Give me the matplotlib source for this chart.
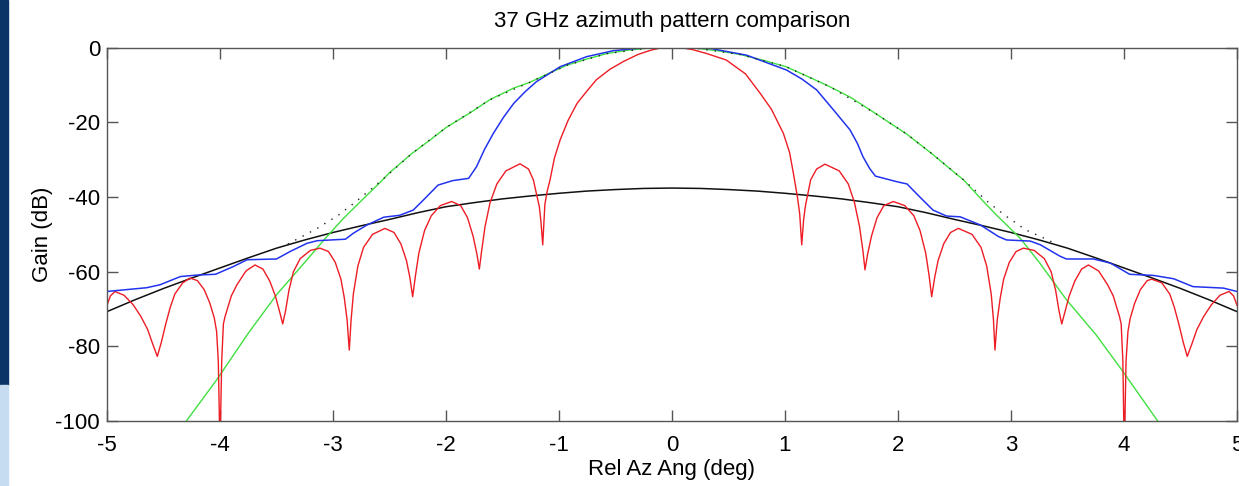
import numpy as np
import matplotlib.pyplot as plt
from matplotlib.patches import Rectangle

plt.rcParams['font.family'] = ['Liberation Sans', 'DejaVu Sans']
plt.rcParams['axes.unicode_minus'] = False

# red: theoretical pattern
red_x = [-5.00, -4.97, -4.93, -4.85, -4.77, -4.70, -4.64, -4.60, -4.555, -4.52, -4.48, -4.44, -4.40, -4.33,
         -4.265, -4.20, -4.14, -4.09, -4.05, -4.03, -4.015, -4.005, -3.995, -3.985, -3.97, -3.955, -3.90,
         -3.85, -3.77, -3.69, -3.62, -3.56, -3.51, -3.47, -3.445, -3.42, -3.39, -3.35, -3.29, -3.20, -3.115,
         -3.04, -2.98, -2.93, -2.90, -2.875, -2.856, -2.84, -2.82, -2.78, -2.73, -2.65, -2.54, -2.46, -2.40,
         -2.35, -2.32, -2.295, -2.27, -2.24, -2.19, -2.13, -2.05, -1.95, -1.87, -1.81, -1.76, -1.725, -1.705,
         -1.685, -1.655, -1.61, -1.55, -1.47, -1.345, -1.27, -1.227, -1.174, -1.16, -1.144, -1.125, -1.105,
         -1.08, -1.04, -0.99, -0.92, -0.84, -0.75, -0.67, -0.55, -0.43, -0.30, -0.18, -0.10, 0.0,
         0.10, 0.18, 0.30, 0.48, 0.65, 0.78, 0.88, 0.985, 1.04, 1.074, 1.11, 1.13, 1.148, 1.165, 1.18,
         1.227, 1.28, 1.354, 1.48, 1.56, 1.615, 1.66, 1.69, 1.708, 1.73, 1.765, 1.815, 1.875, 1.958, 2.06,
         2.14, 2.195, 2.245, 2.275, 2.298, 2.325, 2.355, 2.405, 2.465, 2.534, 2.655, 2.735, 2.785, 2.825,
         2.845, 2.858, 2.878, 2.905, 2.935, 2.985, 3.045, 3.109, 3.205, 3.295, 3.355, 3.395, 3.425, 3.449,
         3.475, 3.515, 3.565, 3.625, 3.685, 3.775, 3.855, 3.905, 3.96, 3.975, 3.99, 3.998, 4.008, 4.018,
         4.035, 4.055, 4.095, 4.145, 4.205, 4.245, 4.335, 4.405, 4.445, 4.485, 4.525, 4.56, 4.605, 4.645,
         4.705, 4.775, 4.85, 4.93, 4.97, 5.00]
red_y = [-69.0, -66.5, -65.3, -66.3, -68.8, -72.0, -75.5, -79.0, -82.7, -79.0, -74.0, -69.5, -66.0, -63.0,
         -61.7, -62.4, -64.8, -68.4, -72.5, -76.0, -84.0, -100.0, -100.0, -84.0, -74.0, -72.0, -66.5,
         -63.5, -59.8, -58.2, -59.3, -62.5, -66.5, -71.0, -74.0, -70.5, -65.0, -60.0, -56.5, -54.3, -53.7,
         -54.6, -57.5, -62.0, -67.0, -73.0, -81.0, -73.0, -66.0, -58.5, -53.5, -50.0, -48.4, -49.5, -52.5,
         -57.0, -61.5, -66.7, -61.0, -55.0, -49.0, -45.0, -42.3, -41.2, -42.3, -45.5, -50.5, -55.5, -59.3,
         -54.5, -48.0, -41.5, -36.5, -33.0, -31.1, -32.5, -35.4, -42.6, -46.5, -52.8, -42.0, -38.5,
         -35.5, -29.5, -24.7, -19.5, -14.9, -11.5, -8.6, -5.8, -3.7, -1.8, -0.6, -0.1, 0.0,
         -0.1, -0.5, -1.5, -3.3, -7.0, -12.2, -16.5, -22.9, -28.0, -33.6, -40.0, -44.5, -52.8, -46.0, -42.5,
         -35.4, -32.5, -31.2, -33.0, -36.5, -41.5, -48.0, -54.5, -59.5, -55.5, -50.5, -45.5, -42.3, -41.2, -42.3,
         -45.0, -49.0, -55.0, -61.0, -66.7, -61.5, -57.0, -52.5, -49.5, -48.4, -50.0, -53.5, -58.5, -66.0,
         -73.0, -81.0, -73.0, -67.0, -62.0, -57.5, -54.6, -53.7, -54.3, -56.5, -60.0, -65.0, -70.5, -74.0,
         -71.0, -66.5, -62.5, -59.3, -58.2, -59.8, -63.5, -66.5, -72.0, -74.0, -84.0, -100.0, -100.0, -84.0,
         -76.0, -72.5, -68.4, -64.8, -62.4, -62.0, -63.0, -66.0, -69.5, -74.0, -79.0, -82.7, -79.0, -75.5,
         -72.0, -68.8, -66.3, -65.3, -66.5, -69.0]

# blue: measured pattern
blue_x = [-5.00, -4.65, -4.53, -4.35, -4.20, -4.04, -3.88, -3.76, -3.50, -3.38, -3.23, -3.14, -2.89, -2.82,
          -2.70, -2.55, -2.41, -2.29, -2.20, -2.07, -1.94, -1.80, -1.73, -1.66, -1.58, -1.49, -1.40, -1.30,
          -1.20, -0.99, -0.755, -0.52, -0.28, 0.0, 0.34, 0.66, 1.015, 1.15, 1.28, 1.43, 1.575, 1.64, 1.69,
          1.75, 1.80, 1.99, 2.08, 2.19, 2.31, 2.43, 2.55, 2.73, 2.89, 2.96, 3.17, 3.26, 3.43, 3.49, 3.73,
          3.88, 4.05, 4.26, 4.44, 4.61, 4.88, 5.00]
blue_y = [-65.3, -64.3, -63.5, -61.3, -60.9, -60.7, -58.6, -56.8, -56.6, -54.6, -52.4, -51.7, -51.3, -49.7,
          -47.5, -45.4, -44.9, -43.5, -40.8, -36.8, -35.6, -35.0, -31.9, -27.3, -22.9, -18.6, -14.9, -11.8,
          -9.1, -5.1, -2.4, -0.8, -0.1, 0.0, -0.2, -2.0, -6.0, -8.4, -11.3, -16.7, -22.0, -25.6, -29.2,
          -32.4, -34.4, -35.9, -36.5, -39.9, -43.5, -45.1, -45.3, -47.5, -50.6, -51.5, -51.8, -52.8, -55.8, -56.6, -56.6,
          -57.7, -60.7, -61.0, -61.9, -64.0, -64.4, -65.3]

# black: element/envelope pattern
black_x = [-5.0, -4.75, -4.5, -4.25, -4.0, -3.75, -3.5, -3.25, -3.0, -2.75, -2.5, -2.25, -2.0, -1.75, -1.5,
           -1.25, -1.0, -0.75, -0.5, -0.25, 0.0, 0.25, 0.5, 0.75, 1.0, 1.25, 1.5, 1.75, 2.0, 2.25, 2.5, 2.75,
           3.0, 3.25, 3.5, 3.75, 4.0, 4.25, 4.5, 4.75, 5.0]
black_y = [-70.7, -67.5, -64.5, -61.7, -59.0, -56.3, -53.7, -51.5, -49.5, -47.7, -46.0, -44.2, -42.6, -41.5, -40.5,
           -39.7, -39.0, -38.4, -38.0, -37.7, -37.6, -37.7, -38.0, -38.4, -39.0, -39.7, -40.5, -41.5, -42.6, -44.2,
           -46.0, -47.7, -49.5, -51.5, -53.7, -56.3, -59.0, -61.7, -64.5, -67.5, -70.7]

# green: gaussian beam fit
green_x = [-4.31, -4.03, -3.75, -3.50, -3.25, -3.06, -2.91, -2.75, -2.58, -2.50, -2.30, -2.14, -2.00, -1.80,
           -1.61, -1.40, -1.26, -1.10, -0.93, -0.75, -0.58, -0.40, -0.20, 0.0, 0.20, 0.40, 0.60, 0.80, 1.01,
           1.20, 1.40, 1.58, 1.80, 2.08, 2.30, 2.49, 2.58, 2.75, 2.87, 3.08, 3.25, 3.49, 3.75, 3.98, 4.31]
green_y = [-100.5, -89.0, -76.5, -66.2, -57.5, -50.8, -45.8, -41.0, -36.0, -33.5, -28.3, -24.7, -21.4, -17.7,
           -13.9, -10.8, -9.3, -7.0, -4.7, -3.0, -1.6, -0.7, -0.1, 0.0, -0.1, -0.8, -1.8, -3.3, -5.1,
           -7.7, -10.5, -13.3, -17.6, -23.2, -28.4, -33.2, -35.4, -41.0, -44.8, -51.0, -57.5, -67.5, -76.8, -86.3, -100.5]

# black dotted: combined pattern
dot_x = [-3.40, -3.25, -3.14, -2.95, -2.80, -2.58, -2.30, -2.00, -1.61, -1.26, -0.93, -0.58, -0.20, 0.0,
         0.20, 0.60, 1.01, 1.40, 1.80, 2.08, 2.30, 2.58, 2.81, 2.96, 3.13, 3.29, 3.40]
dot_y = [-52.6, -50.2, -48.4, -44.8, -41.3, -35.8, -28.3, -21.4, -13.9, -9.3, -4.7, -1.6, -0.1, 0.0,
         -0.1, -1.8, -5.1, -10.5, -17.6, -23.2, -28.4, -35.4, -41.7, -45.2, -48.8, -51.0, -52.6]

fig = plt.figure(figsize=(12.39, 4.86), dpi=100)
fig.patches.append(Rectangle((0, 1 - 385 / 486), 8 / 1239, 385 / 486, transform=fig.transFigure,
                             color='#0b3566', zorder=0))
fig.patches.append(Rectangle((0, 0), 8 / 1239, 1 - 385 / 486, transform=fig.transFigure,
                             color='#c6dcf0', zorder=0))

ax = fig.add_axes([107 / 1239, 1 - 421 / 486, 1130 / 1239, (421 - 47.7) / 486])

ax.plot(black_x, black_y, color='#111111', lw=1.1)
ax.plot(green_x, green_y, color='#3fe03f', lw=1.0)
ax.plot(red_x, red_y, color='#ee1c24', lw=1.0)
ax.plot(blue_x, blue_y, color='#2233ee', lw=1.1)
ax.plot(dot_x, dot_y, color='#222222', lw=1.0, linestyle=(0, (1, 5)))

ax.set_xlim(-5, 5)
ax.set_ylim(-100, 0)
ax.set_xticks(range(-5, 6))
ax.set_yticks(range(-100, 1, 20))
ax.tick_params(direction='in', length=8, width=1, color='#555555', labelsize=16,
               top=True, right=True)
ax.tick_params(axis='x', pad=10)
ax.tick_params(axis='y', pad=5)
for s in ax.spines.values():
    s.set_color('#555555')
    s.set_linewidth(1.0)

ax.set_title('37 GHz azimuth pattern comparison', fontsize=16, pad=15)
ax.set_xlabel('Rel Az Ang (deg)', fontsize=16, labelpad=2)
ax.set_ylabel('Gain (dB)', fontsize=16, labelpad=2)

fig.savefig('out.png', dpi=100)
